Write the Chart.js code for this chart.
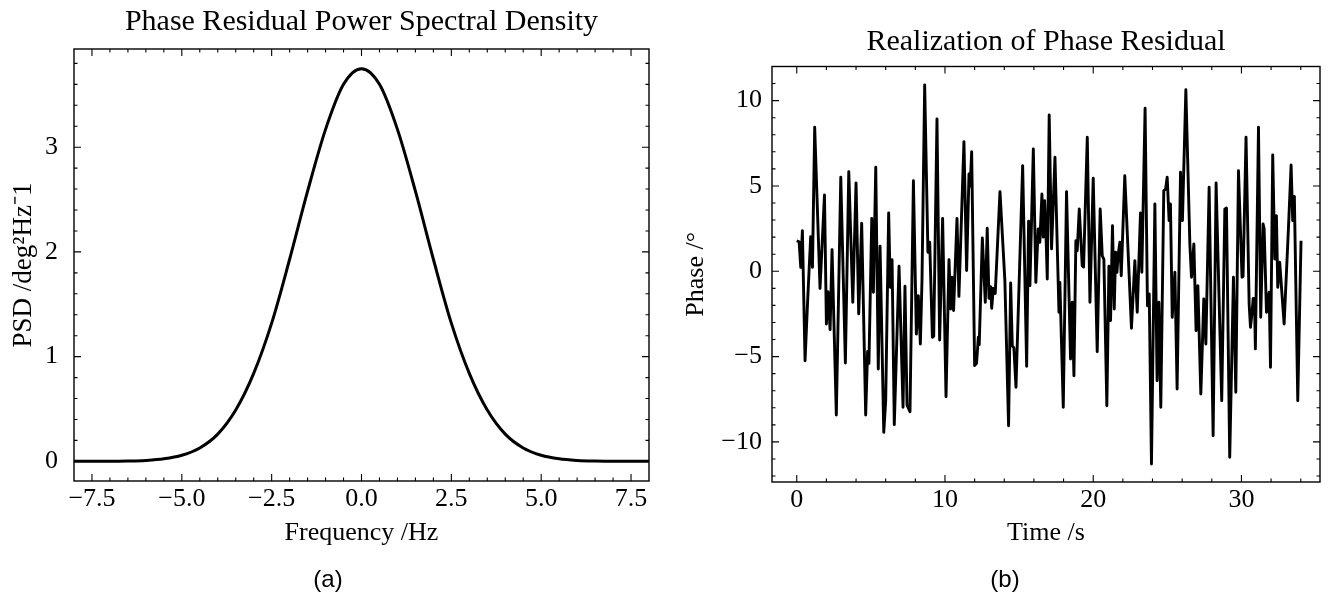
<!DOCTYPE html>
<html><head><meta charset="utf-8">
<script src="https://cdn.jsdelivr.net/npm/chart.js@4.4.0/dist/chart.umd.min.js"></script>
<style>
html,body{margin:0;padding:0;background:#fff;}
#wrap{position:relative;width:1333px;height:606px;overflow:hidden;background:#fff;}
canvas{position:absolute;top:0;}
.cap{position:absolute;font-family:"Liberation Sans",Arial,sans-serif;font-size:24px;line-height:24px;color:#000;transform:translateX(-50%);white-space:nowrap;}
</style></head><body>
<div id="wrap">
<canvas id="c1" width="666" height="606" style="left:0;width:666px;height:606px;"></canvas>
<canvas id="c2" width="667" height="606" style="left:666px;width:667px;height:606px;"></canvas>
<div class="cap" style="left:328px;top:567px;">(a)</div>
<div class="cap" style="left:1005px;top:567px;">(b)</div>
</div>
<script>
// ---------- data: PSD panel ----------
const psdFreq = [-8,-7.5,-7,-6.5,-6,-5.5,-5,-4.5,-4,-3.5,-3,-2.5,-2,-1.5,-1,-0.5,0,0.5,1,1.5,2,2.5,3,3.5,4,4.5,5,5.5,6,6.5,7,7.5,8];
const psdValues = [0.000,0.000,0.001,0.003,0.009,0.024,0.058,0.128,0.26,0.49,0.84,1.32,1.93,2.58,3.17,3.60,3.75,3.60,3.17,2.58,1.93,1.32,0.84,0.49,0.26,0.128,0.058,0.024,0.009,0.003,0.001,0.000,0.000];
const psdXTicks = [-7.5,-5.0,-2.5,0.0,2.5,5.0,7.5];
const psdYTicks = [0,1,2,3];

// ---------- data: phase realization panel ----------
const times = [0.00,0.16,0.27,0.38,0.56,0.72,0.94,1.06,1.21,1.57,1.87,2.00,2.11,2.25,2.38,2.67,2.97,3.28,3.51,3.78,4.00,4.18,4.38,4.65,4.78,4.87,5.06,5.17,5.33,5.50,
5.62,5.87,6.00,6.20,6.31,6.43,6.58,6.90,7.17,7.30,7.44,7.64,7.87,8.07,8.20,8.34,8.45,8.63,8.85,8.97,9.15,9.24,9.46,9.64,9.84,10.07,10.27,10.38,10.47,10.58,10.81,10.94,11.28,11.46,
11.62,11.70,11.80,12.00,12.13,12.25,12.31,12.52,12.72,12.85,12.97,13.08,13.15,13.26,13.39,13.71,14.04,14.29,14.43,14.54,14.65,14.79,15.24,15.51,15.64,15.73,15.96,16.13,16.29,16.40,16.54,16.63,16.72,16.81,16.90,17.03,17.19,17.42,17.69,
17.75,17.98,18.20,18.47,18.58,18.70,18.83,18.92,19.06,19.26,19.35,19.60,19.78,20.00,20.27,20.47,20.61,20.72,20.92,21.06,21.17,21.30,21.42,21.51,21.60,21.69,21.80,21.89,22.13,22.58,22.81,22.97,23.19,23.28,23.50,23.66,
23.78,23.93,24.16,24.31,24.43,24.56,24.76,24.88,24.99,25.12,25.21,25.33,25.51,25.66,25.89,26.02,26.25,26.52,26.63,26.79,26.94,27.06,27.26,27.46,27.60,27.82,28.09,28.29,28.67,28.88,28.99,29.21,29.46,29.62,29.80,
30.04,30.11,30.31,30.52,30.61,30.72,30.79,30.88,30.94,31.15,31.30,31.46,31.53,31.69,31.87,31.96,32.11,32.25,32.36,32.45,32.58,32.88,33.17,33.35,33.46,33.57,33.80,34.02];
const phases = [1.79,1.73,0.23,2.38,-5.24,-2.0,2.03,0.23,8.44,-1.0,4.47,-3.09,-1.2,-3.42,1.27,-8.42,5.51,-5.38,5.84,-1.82,5.18,-2.5,2.81,-8.42,-4.7,-5.4,3.1,-1.23,6.1,-5.73,
1.47,-9.44,-7.58,3.42,-0.94,0.68,-8.99,0.29,-7.97,-0.88,-7.85,-8.23,5.31,-3.68,-1.43,-4.26,-0.5,10.92,1.11,1.7,-3.87,-3.8,8.93,-4.03,3.1,-7.35,0.68,-2.21,-0.35,-2.3,3.1,-1.47,7.6,0.04,
5.70,5.0,7.01,-5.53,-5.4,-3.87,-4.3,1.95,-1.82,2.52,-1.58,-0.9,-2.17,-1.0,-1.3,4.67,-0.55,-9.05,-0.69,-4.36,-4.5,-6.80,6.19,-5.57,2.93,-0.84,7.17,-0.65,2.48,1.70,4.53,2.0,4.14,2.3,-0.45,9.16,1.31,6.68,-2.40,
-0.65,-7.97,4.67,-5.14,-1.82,-6.12,1.79,1.2,3.65,0.33,0.25,7.85,-1.82,5.45,-4.71,3.65,0.91,0.7,-7.88,0.29,-2.89,2.67,-2.21,1.11,-0.06,1.01,1.7,-0.26,5.6,-3.34,0.62,-2.40,3.42,-0.06,9.55,-2.02,
-1.33,-11.3,3.94,-6.41,-1.82,-7.97,4.72,4.8,5.51,2.97,3.94,-2.70,-0.06,-6.90,5.80,2.97,10.64,1.60,-0.35,1.6,-3.48,-0.84,-7.19,-1.62,-4.26,4.92,-9.64,5.18,-7.58,3.65,3.7,-10.90,-0.35,-7.09,5.90,
-0.35,-0.3,7.85,-1.92,-3.28,-2.4,-1.6,-1.6,-4.55,8.44,-2.70,2.77,2.5,-2.4,-1.23,-5.63,6.82,0.72,3.26,-0.94,0.53,-3.09,2.5,6.23,2.97,4.39,-7.58,1.79];
const phaseXTicks = [0,10,20,30];
const phaseYTicks = [-10,-5,0,5,10];

// ---------- styling ----------
const SERIF = '"Liberation Serif","Times New Roman",Times,serif';
Chart.defaults.font.family = SERIF;
Chart.defaults.color = '#000';
Chart.defaults.animation = false;

const fmtMinus = (v, d) => (v < 0 ? '\u2212' : '') + Math.abs(v).toFixed(d);

const insideTicks = {
  id: 'insideTicks',
  afterDatasetsDraw(chart, args, o) {
    const {ctx, chartArea: a} = chart;
    const xs = chart.scales.x, ys = chart.scales.y;
    ctx.save();
    ctx.strokeStyle = '#000';
    ctx.lineWidth = 1.1;
    ctx.beginPath();
    const addX = (v, len) => {
      const p = xs.getPixelForValue(v);
      if (p < a.left + 1 || p > a.right - 1) return;
      ctx.moveTo(p, a.bottom); ctx.lineTo(p, a.bottom - len);
      ctx.moveTo(p, a.top); ctx.lineTo(p, a.top + len);
    };
    const addY = (v, len) => {
      const p = ys.getPixelForValue(v);
      if (p < a.top + 1 || p > a.bottom - 1) return;
      ctx.moveTo(a.left, p); ctx.lineTo(a.left + len, p);
      ctx.moveTo(a.right, p); ctx.lineTo(a.right - len, p);
    };
    o.xMajor.forEach(v => addX(v, o.major));
    o.yMajor.forEach(v => addY(v, o.major));
    for (let k = Math.ceil(xs.min / o.xMinor); k <= Math.floor(xs.max / o.xMinor); k++) addX(k * o.xMinor, o.minor);
    for (let k = Math.ceil(ys.min / o.yMinor); k <= Math.floor(ys.max / o.yMinor); k++) addY(k * o.yMinor, o.minor);
    ctx.stroke();
    ctx.lineWidth = 1.4;
    ctx.strokeRect(a.left, a.top, a.right - a.left, a.bottom - a.top);
    ctx.restore();
  }
};

function axisBase(ticksArr, fmt, pad) {
  return {
    type: 'linear',
    grid: {display: false, drawTicks: false},
    border: {display: false},
    afterBuildTicks: s => { s.ticks = ticksArr.map(v => ({value: v})); },
    ticks: {font: {size: 26}, padding: pad, callback: fmt, autoSkip: false, maxRotation: 0}
  };
}

// ---------- left: PSD ----------
new Chart(document.getElementById('c1'), {
  type: 'line',
  data: {
    datasets: [{
      data: psdFreq.map((f, i) => ({x: f, y: psdValues[i]})),
      borderColor: '#000', borderWidth: 3, pointRadius: 0, fill: false,
      cubicInterpolationMode: 'monotone'
    }]
  },
  options: {
    responsive: false,
    layout: {padding: {left: 0, right: 17, top: 0, bottom: 0}},
    plugins: {
      legend: {display: false}, tooltip: {enabled: false},
      title: {display: true, fullSize: false, text: 'Phase Residual Power Spectral Density',
              font: {size: 30, weight: 'normal'}, padding: {top: 4, bottom: 9}},
      insideTicks: {xMajor: psdXTicks, yMajor: psdYTicks, xMinor: 0.5, yMinor: 0.2, major: 7, minor: 3.5}
    },
    scales: {
      x: Object.assign(axisBase(psdXTicks, v => fmtMinus(v, 1), 3), {
        min: -8, max: 8,
        afterFit: s => { s.height = 125; },
        title: {display: true, text: 'Frequency /Hz', font: {size: 26}, padding: {top: 0, bottom: 57}}
      }),
      y: Object.assign(axisBase(psdYTicks, v => fmtMinus(v, 0), 16), {
        min: -0.1875, max: 3.9375,
        afterFit: s => { s.width = 74; },
        title: {display: true, text: 'PSD /deg\u00B2Hz\u207B1', font: {size: 27}, padding: {top: 8, bottom: 0}}
      })
    }
  },
  plugins: [insideTicks]
});

// ---------- right: realization ----------
new Chart(document.getElementById('c2'), {
  type: 'line',
  data: {
    datasets: [{
      data: times.map((t, i) => ({x: t, y: phases[i]})),
      borderColor: '#000', borderWidth: 2.9, pointRadius: 0, fill: false, tension: 0,
      borderJoinStyle: 'round'
    }]
  },
  options: {
    responsive: false,
    layout: {padding: {left: 0, right: 13, top: 0, bottom: 0}},
    plugins: {
      legend: {display: false}, tooltip: {enabled: false},
      title: {display: true, fullSize: false, text: 'Realization of Phase Residual',
              font: {size: 30, weight: 'normal'}, padding: {top: 24, bottom: 6.5}},
      insideTicks: {xMajor: phaseXTicks, yMajor: phaseYTicks, xMinor: 2, yMinor: 1, major: 7, minor: 3.5}
    },
    scales: {
      x: Object.assign(axisBase(phaseXTicks, v => fmtMinus(v, 0), 3), {
        min: -1.67, max: 35.3,
        afterFit: s => { s.height = 124; },
        title: {display: true, text: 'Time /s', font: {size: 26}, padding: {top: 0, bottom: 57}}
      }),
      y: Object.assign(axisBase(phaseYTicks, v => fmtMinus(v, 0), 10), {
        min: -12.35, max: 12.0,
        afterFit: s => { s.width = 106; },
        title: {display: true, text: 'Phase /\u00B0', font: {size: 26}, padding: {top: 14.5, bottom: 0}}
      })
    }
  },
  plugins: [insideTicks]
});
</script>
</body></html>
